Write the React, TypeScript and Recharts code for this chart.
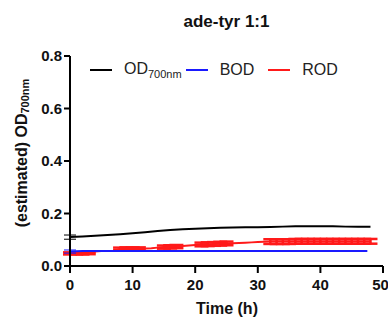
import { LineChart, Line, XAxis, YAxis, ErrorBar } from 'recharts'

const timeTicks = [0, 10, 20, 30, 40, 50]
const odTicks = [0, 0.2, 0.4, 0.6, 0.8]

const odTimes = [0, 2, 4, 6, 8, 10, 12, 14, 16, 18, 20, 22, 24, 26, 28, 30, 32, 34, 36, 38, 40, 42, 44, 46, 48]
const odValues = [0.11, 0.112, 0.115, 0.118, 0.121, 0.125, 0.129, 0.133, 0.137, 0.14, 0.142, 0.144, 0.146, 0.147, 0.148, 0.148, 0.149, 0.15, 0.151, 0.151, 0.151, 0.151, 0.15, 0.15, 0.15]
const odErr = [0.008, 0, 0, 0, 0, 0, 0, 0, 0, 0, 0, 0, 0, 0, 0, 0, 0, 0, 0, 0, 0, 0, 0, 0, 0]

const bodTimes = [0, 2, 4, 8, 12, 16, 20, 24, 28, 32, 36, 40, 44, 47.5]
const bodValues = [0.055, 0.057, 0.057, 0.057, 0.057, 0.057, 0.057, 0.057, 0.057, 0.057, 0.057, 0.057, 0.057, 0.057]
const bodErr = [0.006, 0, 0, 0, 0, 0, 0, 0, 0, 0, 0, 0, 0, 0]

const rodTimes = [0, 1, 2, 3, 4, 5, 6, 7, 8, 9, 10, 11, 12, 13, 14, 15, 16, 17, 18, 19, 20, 21, 22, 23, 24, 25, 26, 27, 28, 29, 30, 31, 32, 33, 34, 35, 36, 37, 38, 39, 40, 41, 42, 43, 44, 45, 46, 47, 48]
const rodValues = [0.048, 0.048, 0.048, 0.049, 0.055, 0.057, 0.057, 0.058, 0.065, 0.066, 0.066, 0.066, 0.067, 0.068, 0.07, 0.072, 0.073, 0.074, 0.076, 0.078, 0.08, 0.082, 0.083, 0.084, 0.085, 0.086, 0.087, 0.088, 0.089, 0.09, 0.091, 0.092, 0.093, 0.093, 0.093, 0.093, 0.094, 0.094, 0.094, 0.094, 0.094, 0.094, 0.094, 0.094, 0.094, 0.094, 0.094, 0.094, 0.094]
const rodErr = [0.004, 0.004, 0.004, 0.004, 0, 0, 0, 0, 0.005, 0.005, 0.005, 0.005, 0, 0, 0, 0.006, 0.006, 0.006, 0, 0, 0, 0.007, 0.007, 0.007, 0.007, 0.007, 0, 0, 0, 0, 0, 0, 0.009, 0.009, 0.009, 0.009, 0.009, 0.009, 0.009, 0.009, 0.009, 0.009, 0.009, 0.009, 0.009, 0.009, 0.009, 0.009, 0.009]

const odData = odTimes.map((t, i) => ({ t, v: odValues[i], e: odErr[i] }))
const bodData = bodTimes.map((t, i) => ({ t, v: bodValues[i], e: bodErr[i] }))
const rodData = rodTimes.map((t, i) => ({ t, v: rodValues[i], e: rodErr[i] }))

const font = '"Liberation Sans", Arial, sans-serif'
const tickStyle = { fill: '#111', fontSize: 15, fontWeight: 700, fontFamily: font }
const labelStyle = { fontSize: 16, fontWeight: 700, fontFamily: font, fill: '#111' }

function YLabel() {
  return (
    <text
      transform="translate(21,153) rotate(-90)"
      textAnchor="middle"
      dominantBaseline="central"
      style={labelStyle}
    >
      (estimated) OD
      <tspan fontSize={11} dy={4}>700nm</tspan>
    </text>
  )
}

function XLabel() {
  return (
    <text x={227} y={308} textAnchor="middle" dominantBaseline="central" style={labelStyle}>
      Time (h)
    </text>
  )
}

function LegendItem({ color, gap, children }: { color: string; gap: number; children: React.ReactNode }) {
  return (
    <span style={{ display: 'inline-flex', alignItems: 'center', marginRight: gap }}>
      <span style={{ display: 'inline-block', width: 22, height: 2, background: color, marginRight: 12 }} />
      <span>{children}</span>
    </span>
  )
}

export default function App() {
  return (
    <div style={{ position: 'absolute', left: 0, top: 0, width: 388, height: 322, background: '#fff', fontFamily: font }}>
      <div style={{ position: 'absolute', top: 12, left: 70, width: 313, textAlign: 'center', fontSize: 17, fontWeight: 700, color: '#111' }}>
        ade-tyr 1:1
      </div>
      <LineChart width={388} height={322} data={odData} margin={{ top: 56, right: 5, bottom: 0, left: 0 }}>
        <XAxis
          dataKey="t"
          type="number"
          domain={[0, 50]}
          ticks={timeTicks}
          allowDataOverflow
          tick={tickStyle}
          axisLine={{ stroke: '#000', strokeWidth: 2 }}
          tickLine={{ stroke: '#000', strokeWidth: 2 }}
          tickSize={7}
          tickMargin={6}
          height={56}
          label={<XLabel />}
        />
        <YAxis
          domain={[0, 0.8]}
          ticks={odTicks}
          tickFormatter={(v: number) => v.toFixed(1)}
          tick={tickStyle}
          axisLine={{ stroke: '#000', strokeWidth: 2 }}
          tickLine={{ stroke: '#000', strokeWidth: 2 }}
          tickSize={6}
          width={70}
          label={<YLabel />}
        />
        <Line data={rodData} dataKey="v" stroke="#ff1a1a" strokeWidth={2} dot={false} isAnimationActive={false}>
          <ErrorBar dataKey="e" stroke="#ff1a1a" width={7} strokeWidth={2.5} />
        </Line>
        <Line data={bodData} dataKey="v" stroke="#1a1aff" strokeWidth={2} dot={false} isAnimationActive={false}>
          <ErrorBar dataKey="e" stroke="#1a1aff" width={6} strokeWidth={1} />
        </Line>
        <Line data={odData} dataKey="v" stroke="#000" strokeWidth={2} dot={false} isAnimationActive={false}>
          <ErrorBar dataKey="e" stroke="#000" width={6} strokeWidth={1} />
        </Line>
      </LineChart>
      <div style={{ position: 'absolute', top: 57, left: 90, fontSize: 16, color: '#222', whiteSpace: 'nowrap' }}>
        <LegendItem color="#000" gap={4}>OD<sub style={{ fontSize: 11 }}>700nm</sub></LegendItem>
        <LegendItem color="#1a1aff" gap={14}>BOD</LegendItem>
        <LegendItem color="#ff1a1a" gap={0}>ROD</LegendItem>
      </div>
    </div>
  )
}
